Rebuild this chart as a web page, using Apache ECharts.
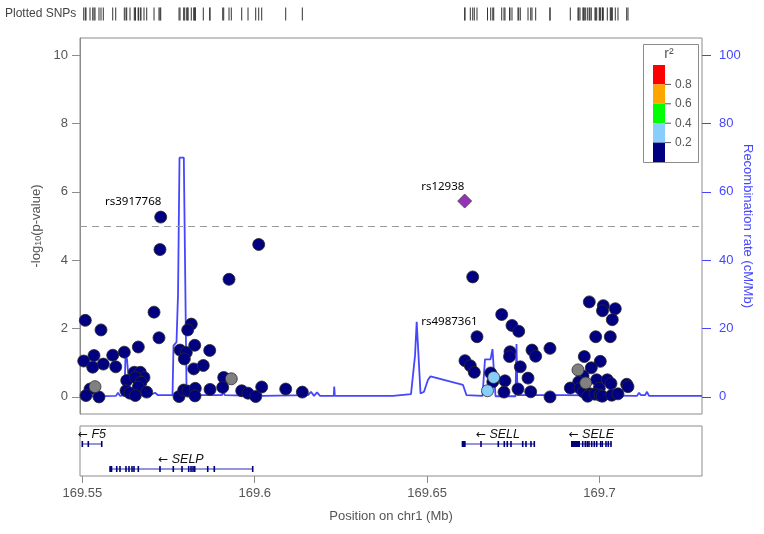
<!DOCTYPE html>
<html><head><meta charset="utf-8">
<script src="https://cdn.jsdelivr.net/npm/echarts@6/dist/echarts.min.js"></script>
<style>html,body{margin:0;padding:0;background:#fff}#c{width:764px;height:534px}</style>
</head><body><div id="c"></div>
<script>
// ---------- DATA ----------
const xRange = [169.54933, 169.72973];
const xTicks = [169.55, 169.6, 169.65, 169.7];
const yTicks = [0, 2, 4, 6, 8, 10];
const recTicks = [0, 20, 40, 60, 80, 100];

// SNP positions (Mb), -log10 p, r2 (null = NA)
const snpPos = [
 169.57274,169.57253,169.60116,169.59255,169.57080,169.55087,169.55542,169.57224,169.58161,169.58057,
 169.57834,169.58016,169.57958,169.58260,169.58695,169.58231,169.58509,169.56624,169.56218,169.55882,
 169.55339,169.55041,169.55302,169.55609,169.55969,169.56288,169.56508,169.56682,169.56789,169.56537,
 169.56702,169.56624,169.56267,169.56383,169.56537,169.56868,169.55223,169.55107,169.55484,169.55368,
 169.59101,169.59321,169.57805,169.57941,169.58066,169.58277,169.58269,169.58704,169.59072,169.59623,
 169.59806,169.60029,169.60203,169.60899,169.61381,
 169.66323,169.66447,169.66099,169.66253,169.66369,169.67164,169.67462,169.67657,169.67404,169.67390,
 169.68042,169.68149,169.68564,169.67703,169.67927,169.67259,169.67230,169.67636,169.68005,169.68564,
 169.66932,169.66752,169.66845,169.66905,
 169.69704,169.70110,169.70087,169.70458,169.70371,169.69890,169.70313,169.69559,169.70023,169.69762,
 169.69376,169.69522,169.69919,169.70226,169.70333,169.69397,169.69600,169.69153,169.69434,169.69994,
 169.70789,169.70826,169.69530,169.69724,169.69658,169.69869,169.70014,169.70081,169.70354,169.70536
];
const snpLogP = [
 5.26,4.31,4.46,3.44,2.48,2.24,1.96,1.73,2.13,1.96,
 1.37,1.30,1.11,1.51,1.36,0.82,0.92,1.46,1.31,1.22,
 1.21,1.05,0.87,0.96,0.88,0.48,0.72,0.72,0.57,0.57,
 0.43,0.29,0.18,0.11,0.04,0.14,0.23,0.04,0.00,0.30,
 0.57,0.53,0.01,0.20,0.17,0.25,0.03,0.22,0.28,0.18,
 0.11,0.01,0.29,0.23,0.14,
 3.51,1.76,1.06,0.91,0.72,2.41,2.09,1.92,1.32,1.18,
 1.37,1.19,1.42,0.88,0.55,0.47,0.14,0.23,0.15,0.00,
 0.57,0.18,0.70,0.44,
 2.78,2.67,2.52,2.58,2.26,1.76,1.76,1.18,1.04,0.85,
 0.79,0.61,0.50,0.50,0.39,0.44,0.41,0.26,0.25,0.25,
 0.37,0.30,0.15,0.09,0.02,0.08,0.05,0.02,0.05,0.09
];
const snpR2 = [
 0.1,0.1,0.1,0.1,0.1,0.1,0.1,0.1,0.1,0.1,
 0.1,0.1,0.1,0.1,0.1,0.1,0.1,0.1,0.1,0.1,
 0.1,0.1,0.1,0.1,0.1,0.1,0.1,0.1,0.1,0.1,
 0.1,0.1,0.1,0.1,0.1,0.1,0.1,0.1,0.1,null,
 0.1,null,0.1,0.1,0.1,0.1,0.1,0.1,0.1,0.1,
 0.1,0.1,0.1,0.1,0.1,
 0.1,0.1,0.1,0.1,0.1,0.1,0.1,0.1,0.1,0.1,
 0.1,0.1,0.1,0.1,0.1,0.1,0.1,0.1,0.1,0.1,
 0.3,0.3,0.1,0.1,
 0.1,0.1,0.1,0.1,0.1,0.1,0.1,0.1,0.1,0.1,
 null,0.1,0.1,0.1,0.1,0.1,null,0.1,0.1,0.1,
 0.1,0.1,0.1,0.1,0.1,0.1,0.1,0.1,0.1,0.1
];
const labelIdx = [0, 56];
const labelNames = ['rs3917768', 'rs4987361'];
const indexName = 'rs12938';
const indexPos = 169.66090;
const indexLogP = 5.73;
const sigLine = 5;

// recombination rate (cM/Mb)
const recombPos = [169.54933,169.55977,169.56035,169.56093,169.56224,169.56253,169.56296,169.56354,169.56412,169.56528,
 169.56963,169.57108,169.57195,169.57616,169.57645,169.57732,169.57776,169.57819,169.57944,169.57979,
 169.58022,169.58066,169.59052,169.59081,169.59139,169.60009,169.60154,169.60212,169.61546,169.61633,
 169.61720,169.61807,169.61894,169.62294,169.62306,169.62323,169.64011,169.64069,169.64533,169.64649,
 169.64698,169.64751,169.64809,169.64910,169.65026,169.65099,169.66041,169.66143,169.66607,169.66679,
 169.66839,169.66897,169.66955,169.66984,169.67564,169.67593,169.67622,169.68942,169.68970,169.68999,
 169.71088,169.71146,169.71204,169.71320,169.71378,169.71436,169.72973];
const recombRate = [0.2,0.3,1.2,0.3,0.5,12.5,11,4,1,0.5,
 0.5,1.2,0.5,0.5,15,16,30,70,70,40,
 3,0.5,0.5,1.5,0.5,0.3,1.2,0.3,0.5,1.5,
 0.3,1.3,0.3,0.3,3,0.3,0.3,0.8,0.8,12,
 22,12,1,1.5,5,6,3.5,0.5,0.3,11,
 11,14,14,0.2,0.2,15.5,0.5,0.5,1,0.3,
 0.3,1.2,0.5,0.5,1.5,0.3,0.3];

// genes
const geneNames = ['F5', 'SELP', 'SELL', 'SELE'];
const geneStart = [169.55000, 169.55783, 169.66003, 169.69173];
const geneEnd = [169.55563, 169.59942, 169.68109, 169.70354];
const geneRow = [1, 2, 1, 1];
const geneExons = [
 [[169.55000,169.55000],[169.55174,169.55174],[169.55563,169.55563]],
 [[169.55783,169.55870],[169.55998,169.55998],[169.56093,169.56093],[169.56267,169.56267],[169.56354,169.56354],
  [169.56441,169.56441],[169.56499,169.56499],[169.56624,169.56624],[169.57253,169.57253],[169.57639,169.57639],
  [169.57892,169.57892],[169.58086,169.58086],[169.58153,169.58153],[169.58211,169.58211],[169.58260,169.58260],
  [169.58637,169.58637],[169.58828,169.58828],[169.59942,169.59942]],
 [[169.66003,169.66119],[169.66563,169.66563],[169.67065,169.67065],[169.67239,169.67239],[169.67326,169.67326],
  [169.67433,169.67433],[169.67773,169.67773],[169.67868,169.67868],[169.68013,169.68013],[169.68109,169.68109]],
 [[169.69173,169.69434],[169.69513,169.69513],[169.69588,169.69588],[169.69646,169.69646],[169.69695,169.69695],
  [169.69774,169.69774],[169.69849,169.69849],[169.69919,169.69919],[169.70035,169.70035],[169.70081,169.70081],
  [169.70188,169.70188],[169.70255,169.70255],[169.70333,169.70354]]
];

// LD legend
const r2Breaks = [0.2, 0.4, 0.6, 0.8];
const r2Colors = ['#000080', '#87CEFA', '#00FF00', '#FFA500', '#FF0000'];
const naColor = '#808080';
const indexColor = '#9632B8';
const recColor = '#4646ff';

// ---------- CHART ----------
function r2Color(r) {
  if (r === null) return naColor;
  let k = 0;
  while (k < r2Breaks.length && r >= r2Breaks[k]) k++;
  return r2Colors[k];
}

// draw order: higher LD on top
const order = snpPos.map((p, i) => i).sort((a, b) => {
  const ra = snpR2[a] === null ? 0.15 : snpR2[a];
  const rb = snpR2[b] === null ? 0.15 : snpR2[b];
  return ra - rb || a - b;
});
const snpData = order.map(i => {
  const item = {value: [snpPos[i], snpLogP[i]], itemStyle: {color: r2Color(snpR2[i])}};
  const li = labelIdx.indexOf(i);
  if (li >= 0) {
    item.name = labelNames[li];
    item.label = {show: true, formatter: '{b}', position: [7, -9], align: 'right', verticalAlign: 'middle',
      color: '#000', fontSize: 11.5, fontFamily: 'Noto Sans'};
  }
  return item;
});

const grey = '#555';
const frame = '#8c8c8c';
const chart = echarts.init(document.getElementById('c'), null, {renderer: 'canvas'});

// legend graphics
const legTop = 65, legH = 19.4, legX = 653, legW = 12;
const legend = [
  {type: 'rect', shape: {x: 643.5, y: 44.5, width: 55, height: 118}, style: {fill: '#fff', stroke: frame, lineWidth: 1}, z: 100},
  {type: 'text', x: 669, y: 54, style: {text: 'r²', fill: grey, font: '14px "Liberation Sans"', align: 'center', verticalAlign: 'middle'}, z: 101}
];
r2Colors.slice().reverse().forEach((c, k) => {
  legend.push({type: 'rect', shape: {x: legX, y: legTop + k * legH, width: legW, height: legH}, style: {fill: c}, z: 101});
});
r2Breaks.slice().reverse().forEach((b, k) => {
  const y = legTop + (k + 1) * legH;
  legend.push({type: 'line', shape: {x1: legX + legW, y1: y, x2: legX + legW + 6, y2: y}, style: {stroke: grey, lineWidth: 1}, z: 101});
  legend.push({type: 'text', x: legX + legW + 10, y: y, style: {text: b.toFixed(1), fill: grey, font: '12px "Liberation Sans"', verticalAlign: 'middle'}, z: 101});
});
legend.push({type: 'text', x: 5, y: 14, style: {text: 'Plotted SNPs', fill: '#444', font: '12px "Liberation Sans"', verticalAlign: 'middle'}});

const gridBase = {left: 80, width: 622, containLabel: false, outerBoundsMode: 'none'};
const option = {
  animation: false,
  backgroundColor: '#fff',
  grid: [
    Object.assign({}, gridBase, {top: 7, height: 14}),
    Object.assign({}, gridBase, {top: 38, height: 376, show: true, borderColor: frame, borderWidth: 1}),
    Object.assign({}, gridBase, {top: 426, height: 50, show: true, borderColor: frame, borderWidth: 1})
  ],
  xAxis: [
    {gridIndex: 0, type: 'value', min: xRange[0], max: xRange[1], show: false},
    {gridIndex: 1, type: 'value', min: xRange[0], max: xRange[1], axisLine: {show: false}, axisTick: {show: false}, axisLabel: {show: false}, splitLine: {show: false}},
    {gridIndex: 2, type: 'value', min: xRange[0], max: xRange[1], position: 'bottom',
      axisLine: {show: false},
      axisTick: {show: true, length: 7, lineStyle: {color: frame}, customValues: xTicks},
      axisLabel: {show: true, color: grey, fontSize: 13, fontFamily: 'Liberation Sans', margin: 11, customValues: xTicks, formatter: v => String(+v.toFixed(2))},
      splitLine: {show: false},
      name: 'Position on chr1 (Mb)', nameLocation: 'middle', nameGap: 34, nameMoveOverlap: false,
      nameTextStyle: {color: grey, fontSize: 13, fontFamily: 'Liberation Sans'}}
  ],
  yAxis: [
    {gridIndex: 0, type: 'value', min: 0, max: 1, show: false},
    {gridIndex: 1, type: 'value', min: -0.5, max: 10.5, position: 'left',
      axisLine: {show: true, lineStyle: {color: frame}},
      axisTick: {show: true, length: 8, lineStyle: {color: frame}, customValues: yTicks},
      axisLabel: {color: grey, fontSize: 13, fontFamily: 'Liberation Sans', margin: 12, customValues: yTicks},
      splitLine: {show: false},
      name: '-log{s|10}(p-value)', nameLocation: 'middle', nameGap: 37, nameMoveOverlap: false,
      nameTextStyle: {color: grey, fontSize: 13, fontFamily: 'Liberation Sans',
        rich: {s: {fontSize: 9, verticalAlign: 'bottom', color: grey, fontFamily: 'Liberation Sans', padding: [4, 0, 0, 0]}}}},
    {gridIndex: 1, type: 'value', min: -5, max: 105, position: 'right',
      axisLine: {show: false},
      axisTick: {show: true, length: 9, lineStyle: {color: recColor}, customValues: recTicks},
      axisLabel: {color: recColor, fontSize: 13, fontFamily: 'Liberation Sans', margin: 17, customValues: recTicks},
      splitLine: {show: false},
      name: 'Recombination rate (cM/Mb)', nameLocation: 'middle', nameGap: 39, nameRotate: -90, nameMoveOverlap: false,
      nameTextStyle: {color: recColor, fontSize: 13, fontFamily: 'Liberation Sans'}},
    {gridIndex: 2, type: 'value', min: 0.28, max: 2.28, inverse: true, show: false}
  ],
  series: [
    {type: 'scatter', xAxisIndex: 0, yAxisIndex: 0, symbol: 'rect', symbolSize: [1, 13],
      itemStyle: {color: '#333', opacity: 1}, data: snpPos.concat([indexPos]).map(p => [p, 0.5]), silent: true},
    {type: 'line', xAxisIndex: 1, yAxisIndex: 2, showSymbol: false, z: 2,
      lineStyle: {color: recColor, width: 1.8}, data: recombPos.map((p, i) => [p, recombRate[i]])},
    {type: 'scatter', xAxisIndex: 1, yAxisIndex: 1, symbol: 'circle', symbolSize: 12, z: 3,
      itemStyle: {borderColor: '#2a2a2a', borderWidth: 0.8, opacity: 1},
      data: snpData,
      markLine: {silent: true, symbol: 'none', label: {show: false},
        lineStyle: {color: '#9a9a9a', type: [7, 5], width: 1}, data: [{yAxis: sigLine}]}},
    {type: 'scatter', xAxisIndex: 1, yAxisIndex: 1, symbol: 'diamond', symbolSize: 14, z: 4,
      itemStyle: {color: indexColor, borderColor: '#444', borderWidth: 0.8, opacity: 1},
      data: [{name: indexName, value: [indexPos, indexLogP],
        label: {show: true, formatter: '{b}', position: [7, -7], align: 'right', verticalAlign: 'middle',
          color: '#000', fontSize: 11.5, fontFamily: 'Noto Sans'}}]},
    {type: 'custom', xAxisIndex: 2, yAxisIndex: 3, clip: false,
      data: geneNames.map((n, i) => [i, geneStart[i], geneEnd[i], geneRow[i]]),
      encode: {x: [1, 2], y: 3},
      renderItem: function (params, api) {
        const i = api.value(0);
        const p0 = api.coord([geneStart[i], geneRow[i]]);
        const p1 = api.coord([geneEnd[i], geneRow[i]]);
        const y = p0[1];
        const ch = [{type: 'line', shape: {x1: p0[0], y1: y, x2: p1[0], y2: y}, style: {stroke: '#2b2bb0', lineWidth: 1}}];
        geneExons[i].forEach(e => {
          const a = api.coord([e[0], geneRow[i]])[0];
          const b = api.coord([e[1], geneRow[i]])[0];
          const w = Math.max(b - a, 1.6);
          ch.push({type: 'rect', shape: {x: a - (b - a < 1.6 ? 0.8 : 0), y: y - 3, width: w, height: 6}, style: {fill: '#00007a'}});
        });
        const cx = (p0[0] + p1[0]) / 2;
        ch.push({type: 'text', x: cx, y: y - 9,
          style: {text: '{a|\u2190} {n|' + geneNames[i] + '}', align: 'center', verticalAlign: 'middle',
            rich: {a: {fontFamily: 'DejaVu Sans', fontSize: 12, fill: '#111', color: '#111'},
                   n: {fontFamily: 'Liberation Sans', fontStyle: 'italic', fontSize: 12.5, fill: '#111', color: '#111'}}}});
        return {type: 'group', children: ch};
      }}
  ],
  graphic: legend
};
chart.setOption(option);
</script></body></html>
